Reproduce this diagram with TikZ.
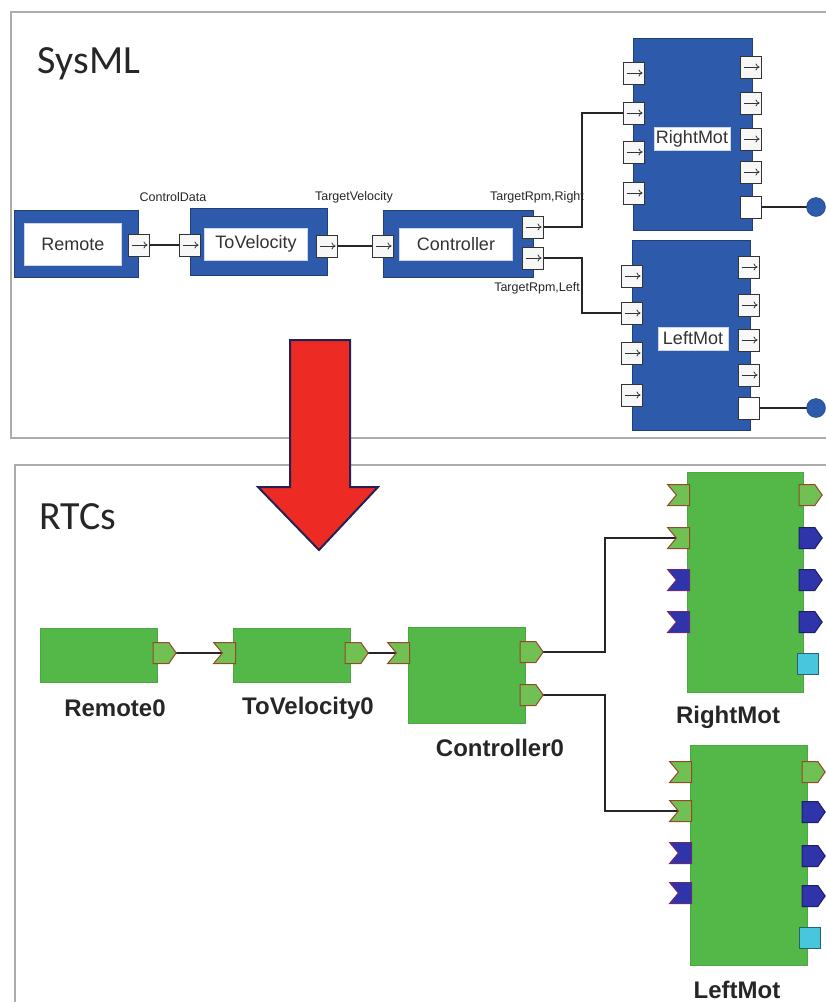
\documentclass[tikz,border=0pt]{standalone}
\usepackage{fontspec}
\setmainfont{Liberation Sans}
\newfontfamily\titlefont{Carlito}
\usepackage{tikz}
\usetikzlibrary{arrows.meta, positioning, calc, shapes.symbols}

\definecolor{sysblue}{RGB}{46,90,172}
\definecolor{rtcgreen}{RGB}{84,184,72}
\definecolor{portgreen}{RGB}{112,192,84}
\definecolor{portbrown}{RGB}{150,72,40}
\definecolor{svcblue}{RGB}{48,52,170}
\definecolor{svcpurple}{RGB}{110,40,120}
\definecolor{cfgcyan}{RGB}{72,198,222}
\definecolor{arrowred}{RGB}{238,42,36}
\definecolor{arrownavy}{RGB}{34,34,84}

\begin{document}
\begin{tikzpicture}[
    x=1pt, y=-1pt,
    panel/.style={draw=gray!65, line width=2.2pt},
    paneltitle/.style={font=\titlefont\fontsize{40}{40}\selectfont, text=black!85, inner sep=0pt},
    sysblock/.style={rectangle, draw=sysblue!70!black, fill=sysblue, line width=0.8pt, inner sep=0pt},
    syslabel/.style={rectangle, draw=sysblue!25, fill=white, inner sep=0pt, font=\fontsize{18}{18}\selectfont, text=black!80},
    sysport/.style={rectangle, draw=black!80, fill=gray!6, line width=1pt, minimum width=21pt, minimum height=22pt, inner sep=0pt,
        path picture={\draw[black!80, line width=0.8pt, -{To[length=4pt, width=7pt]}] ([xshift=3pt]path picture bounding box.west) -- ([xshift=-2pt]path picture bounding box.east);}},
    sysplug/.style={rectangle, draw=black!80, fill=white, line width=1pt, minimum width=21pt, minimum height=22pt, inner sep=0pt},
    extcircle/.style={circle, fill=sysblue, draw=sysblue!70!black, minimum size=19pt, inner sep=0pt},
    flowname/.style={font=\fontsize{12.5}{12.5}\selectfont, text=black!85, inner sep=0pt},
    rtcblock/.style={rectangle, fill=rtcgreen, draw=rtcgreen!90!black, inner sep=0pt},
    rtcname/.style={font=\bfseries\fontsize{24}{24}\selectfont, text=black!85, inner sep=0pt},
    inport/.style={signal, signal from=west, signal to=nowhere, signal pointer angle=100, fill=portgreen, draw=portbrown, line width=1pt, minimum width=22pt, minimum height=21pt, inner sep=0pt},
    outport/.style={signal, signal to=east, signal pointer angle=110, fill=portgreen, draw=portbrown, line width=1pt, minimum width=23pt, minimum height=21pt, inner sep=0pt},
    svcin/.style={inport, fill=svcblue, draw=svcpurple},
    svcout/.style={outport, fill=svcblue, draw=svcblue!60!black},
    cfgport/.style={rectangle, fill=cfgcyan, draw=cfgcyan!50!black, line width=1pt, minimum size=21pt, inner sep=0pt},
    wire/.style={draw=black!85, line width=1.5pt},
    rtcwire/.style={draw=black!85, line width=2pt},
    bigarrow/.style={fill=arrowred, draw=arrownavy, line width=2pt, line join=miter}
]
    \useasboundingbox (0,0) rectangle (826,1002);

    % panels
    \draw [panel] (826,12) -| (11,438) -- (826,438);
    \draw [panel] (826,465) -| (15,1002);
    \node [paneltitle] (systitle) at (89,64) {SysML};
    \node [paneltitle] (rtctitle) at (78,517) {RTCs};

    % SysML blocks
    \node [sysblock, minimum width=124pt, minimum height=67pt] (remote) at (76,243.5) {};
    \node [syslabel, minimum width=97pt, minimum height=42pt] (remotelbl) at (73,244) {Remote};
    \node [sysblock, minimum width=137pt, minimum height=67pt] (tovel) at (258.5,241.5) {};
    \node [syslabel, minimum width=103pt, minimum height=32pt] (tovellbl) at (256,244) {ToVelocity};
    \node [sysblock, minimum width=150pt, minimum height=67pt] (ctrl) at (458,243.5) {};
    \node [syslabel, minimum width=113pt, minimum height=32pt] (ctrllbl) at (456,244) {Controller};
    \node [sysblock, minimum width=119pt, minimum height=192pt] (rmot) at (692.5,134) {};
    \node [syslabel, minimum width=76pt, minimum height=23pt] (rmotlbl) at (692,138.5) {RightMot};
    \node [sysblock, minimum width=118pt, minimum height=190pt] (lmot) at (691,335) {};
    \node [syslabel, minimum width=70pt, minimum height=23pt] (lmotlbl) at (693,338.5) {LeftMot};

    % SysML flow names
    \node [flowname] (flowcd) at (173,197) {ControlData};
    \node [flowname] (flowtv) at (354,197) {TargetVelocity};
    \node [flowname] (flowrr) at (537,197) {TargetRpm,Right};
    \node [flowname] (flowrl) at (537,288) {TargetRpm,Left};

    % SysML wires
    \draw [wire] (139,245) coordinate (remote-o) -- (190,245) coordinate (tovel-i);
    \draw [wire] (327,246) coordinate (tovel-o) -- (383,246) coordinate (ctrl-i);
    \draw [wire] (533,227) coordinate (ctrl-o1) -- ++(49,0) |- (634,113) coordinate (rmot-i2);
    \draw [wire] (533,258) coordinate (ctrl-o2) -- ++(49,0) |- (632,313) coordinate (lmot-i2);
    \draw [wire] (751,207) coordinate (rmot-p) -- (816,207) coordinate (rmot-x);
    \draw [wire] (749,408) coordinate (lmot-p) -- (816,408) coordinate (lmot-x);

    % SysML ports
    \node [sysport] (remoteout) at (remote-o) {};
    \node [sysport] (tovelin) at (tovel-i) {};
    \node [sysport] (tovelout) at (tovel-o) {};
    \node [sysport] (ctrlin) at (ctrl-i) {};
    \node [sysport] (ctrlout1) at (ctrl-o1) {};
    \node [sysport] (ctrlout2) at (ctrl-o2) {};
    \node [sysport] (rmotin1) at (634,73) {};
    \node [sysport] (rmotin2) at (rmot-i2) {};
    \node [sysport] (rmotin3) at (634,152) {};
    \node [sysport] (rmotin4) at (634,193) {};
    \node [sysport] (rmotout1) at (751,67) {};
    \node [sysport] (rmotout2) at (751,103) {};
    \node [sysport] (rmotout3) at (751,139) {};
    \node [sysport] (rmotout4) at (751,172) {};
    \node [sysplug] (rmotplug) at (rmot-p) {};
    \node [extcircle] (rmotext) at (rmot-x) {};
    \node [sysport] (lmotin1) at (632,276) {};
    \node [sysport] (lmotin2) at (lmot-i2) {};
    \node [sysport] (lmotin3) at (632,353) {};
    \node [sysport] (lmotin4) at (632,395) {};
    \node [sysport] (lmotout1) at (749,267) {};
    \node [sysport] (lmotout2) at (749,305) {};
    \node [sysport] (lmotout3) at (749,340) {};
    \node [sysport] (lmotout4) at (749,375) {};
    \node [sysplug] (lmotplug) at (lmot-p) {};
    \node [extcircle] (lmotext) at (lmot-x) {};

    % RTC blocks
    \node [rtcblock, minimum width=117pt, minimum height=54pt] (remote0) at (98.5,655) {};
    \node [rtcname] (remote0lbl) at (115,708) {Remote0};
    \node [rtcblock, minimum width=117pt, minimum height=54pt] (tovel0) at (291.5,655) {};
    \node [rtcname] (tovel0lbl) at (308,708) {ToVelocity0};
    \node [rtcblock, minimum width=117pt, minimum height=96pt] (ctrl0) at (466.5,675) {};
    \node [rtcname] (ctrl0lbl) at (500,748) {Controller0};
    \node [rtcblock, minimum width=116pt, minimum height=220pt] (rmot0) at (745,582) {};
    \node [rtcname] (rmot0lbl) at (728,717) {RightMot};
    \node [rtcblock, minimum width=117pt, minimum height=220pt] (lmot0) at (748.5,855) {};
    \node [rtcname] (lmot0lbl) at (737,990) {LeftMot};

    % RTC wires
    \draw [rtcwire] (161,653) coordinate (remote0-o) -- (229,653) coordinate (tovel0-i);
    \draw [rtcwire] (353,653) coordinate (tovel0-o) -- (403,653) coordinate (ctrl0-i);
    \draw [rtcwire] (528,652) coordinate (ctrl0-o1) -- ++(77,0) |- (683,538) coordinate (rmot0-i2);
    \draw [rtcwire] (528,695) coordinate (ctrl0-o2) -- ++(77,0) |- (685,811) coordinate (lmot0-i2);

    % RTC ports
    \node [outport] (remote0out) at (remote0-o) {};
    \node [inport] (tovel0in) at (tovel0-i) {};
    \node [outport] (tovel0out) at (tovel0-o) {};
    \node [inport] (ctrl0in) at (ctrl0-i) {};
    \node [outport] (ctrl0out1) at (ctrl0-o1) {};
    \node [outport] (ctrl0out2) at (ctrl0-o2) {};
    \node [inport] (rmot0in1) at (683,495) {};
    \node [inport] (rmot0in2) at (rmot0-i2) {};
    \node [svcin] (rmot0svc1) at (683,580) {};
    \node [svcin] (rmot0svc2) at (683,622) {};
    \node [outport] (rmot0out) at (807,495) {};
    \node [svcout] (rmot0svc3) at (807,538) {};
    \node [svcout] (rmot0svc4) at (807,580) {};
    \node [svcout] (rmot0svc5) at (807,622) {};
    \node [cfgport] (rmot0cfg) at (808,664) {};
    \node [inport] (lmot0in1) at (685,772) {};
    \node [inport] (lmot0in2) at (lmot0-i2) {};
    \node [svcin] (lmot0svc1) at (685,853) {};
    \node [svcin] (lmot0svc2) at (685,893) {};
    \node [outport] (lmot0out) at (810,772) {};
    \node [svcout] (lmot0svc3) at (810,812) {};
    \node [svcout] (lmot0svc4) at (810,856) {};
    \node [svcout] (lmot0svc5) at (810,896) {};
    \node [cfgport] (lmot0cfg) at (810,938) {};

    % transformation arrow
    \draw [bigarrow] (290,340) -- (350,340) -- (350,487) -- (378,487) -- (319,550) -- (258,487) -- (290,487) -- cycle;

\end{tikzpicture}
\end{document}
